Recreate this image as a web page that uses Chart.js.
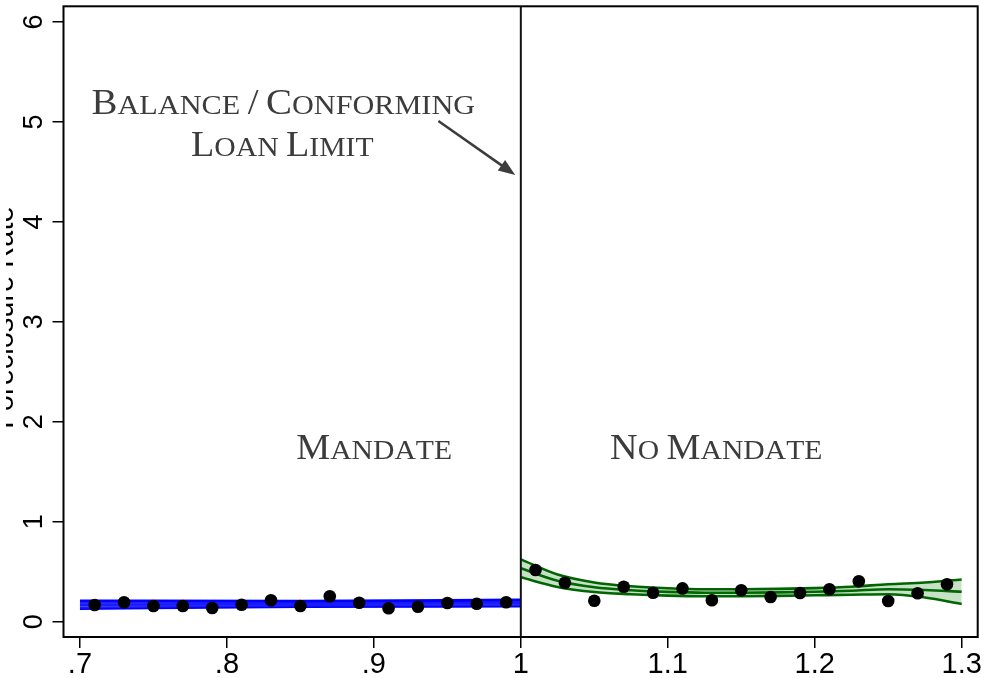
<!DOCTYPE html>
<html>
<head>
<meta charset="utf-8">
<script src="https://cdn.jsdelivr.net/npm/chart.js@4.4.1/dist/chart.umd.min.js"></script>
<style>
  html, body { margin: 0; padding: 0; background: #ffffff; }
  #wrap { width: 984px; height: 678px; position: relative; }
</style>
</head>
<body>
<div id="wrap"><canvas id="c" width="984" height="678"></canvas></div>
<script>
// Binned foreclosure rates, below the conforming limit (mandate)
const binLeft  = [0.71, 0.73, 0.75, 0.77, 0.79, 0.81, 0.83, 0.85, 0.87, 0.89, 0.91, 0.93, 0.95, 0.97, 0.99];
const rateLeft = [0.167, 0.194, 0.157, 0.157, 0.137, 0.170, 0.214, 0.157, 0.254, 0.190, 0.134, 0.150, 0.187, 0.180, 0.194];

// Binned foreclosure rates, above the conforming limit (no mandate)
const binRight  = [1.01, 1.03, 1.05, 1.07, 1.09, 1.11, 1.13, 1.15, 1.17, 1.19, 1.21, 1.23, 1.25, 1.27, 1.29];
const rateRight = [0.517, 0.390, 0.210, 0.350, 0.290, 0.333, 0.214, 0.314, 0.247, 0.287, 0.324, 0.404, 0.207, 0.284, 0.374];

// Fitted line and confidence band, left side
const fitLeftX   = [0.70, 0.85, 1.00];
const fitLeftMid = [0.170, 0.178, 0.187];
const fitLeftHi  = [0.207, 0.205, 0.217];
const fitLeftLo  = [0.133, 0.151, 0.157];

// Fitted polynomial and confidence band, right side
const fitRightX   = [1.000, 1.025, 1.050, 1.075, 1.100, 1.125, 1.150, 1.175, 1.200, 1.225, 1.250, 1.275, 1.300];
const fitRightMid = [0.534, 0.410, 0.345, 0.315, 0.298, 0.290, 0.290, 0.293, 0.300, 0.310, 0.325, 0.317, 0.300];
const fitRightHi  = [0.624, 0.472, 0.393, 0.355, 0.335, 0.325, 0.325, 0.328, 0.336, 0.350, 0.375, 0.392, 0.422];
const fitRightLo  = [0.444, 0.348, 0.297, 0.275, 0.261, 0.255, 0.255, 0.258, 0.264, 0.270, 0.275, 0.242, 0.178];

// Axis ticks
const xTicks = [0.7, 0.8, 0.9, 1.0, 1.1, 1.2, 1.3];
const xTickLabels = ['.7', '.8', '.9', '1', '1.1', '1.2', '1.3'];
const yTicks = [0, 1, 2, 3, 4, 5, 6];
const yTickLabels = ['0', '1', '2', '3', '4', '5', '6'];

const threshold = 1.0;
const yTitle = 'Foreclosure Rate';

const pts = (xs, ys) => xs.map((x, i) => ({ x: x, y: ys[i] }));

const SERIF = '"Liberation Serif", "Times New Roman", serif';
const SANS = '"Liberation Sans", Arial, sans-serif';
const TEXT_GRAY = '#3c3c3c';

// Draws text in small capitals: first letter of each word large, the rest smaller
function smallCaps(ctx, text, cx, baseline, big, small, stretch) {
  const parts = [];
  text.split(' ').forEach((word, wi, arr) => {
    word.split('').forEach((ch, ci) => {
      const isBig = ci === 0 || !/[a-z]/i.test(ch);
      parts.push({ ch: ch.toUpperCase(), size: isBig ? big : small });
    });
    if (wi < arr.length - 1) parts.push({ ch: ' ', size: small });
  });
  let total = 0;
  parts.forEach(p => { ctx.font = p.size + 'px ' + SERIF; p.w = ctx.measureText(p.ch).width; total += p.w; });
  ctx.save();
  ctx.translate(cx, baseline);
  ctx.scale(stretch, 1);
  let x = -total / 2;
  ctx.textAlign = 'left';
  ctx.textBaseline = 'alphabetic';
  parts.forEach(p => { ctx.font = p.size + 'px ' + SERIF; ctx.fillText(p.ch, x, 0); x += p.w; });
  ctx.restore();
}

const decorations = {
  id: 'decorations',
  afterDatasetsDraw(chart) {
    const { ctx, chartArea: a, scales: { x, y } } = chart;
    ctx.save();
    // threshold line
    const tx = x.getPixelForValue(threshold);
    ctx.strokeStyle = '#111';
    ctx.lineWidth = 2;
    ctx.beginPath();
    ctx.moveTo(tx, a.top);
    ctx.lineTo(tx, a.bottom);
    ctx.stroke();

    // plot frame
    ctx.strokeStyle = '#000';
    ctx.lineWidth = 2;
    ctx.strokeRect(a.left, a.top, a.right - a.left, a.bottom - a.top);

    // annotations
    ctx.fillStyle = TEXT_GRAY;
    smallCaps(ctx, 'Balance / Conforming', x.getPixelForValue(0.8384), y.getPixelForValue(5.084), 36, 28, 1.08);
    smallCaps(ctx, 'Loan Limit', x.getPixelForValue(0.8377), y.getPixelForValue(4.66), 36, 28, 1.06);
    smallCaps(ctx, 'Mandate', x.getPixelForValue(0.9002), y.getPixelForValue(1.627), 36, 28, 1.06);
    smallCaps(ctx, 'No Mandate', x.getPixelForValue(1.1330), y.getPixelForValue(1.627), 36, 28, 1.06);

    // arrow towards the threshold
    const x0 = x.getPixelForValue(0.9439), y0 = y.getPixelForValue(5.01);
    const x1 = x.getPixelForValue(0.9962), y1 = y.getPixelForValue(4.47);
    const ang = Math.atan2(y1 - y0, x1 - x0);
    const head = 18, spread = 0.36;
    ctx.strokeStyle = TEXT_GRAY;
    ctx.lineWidth = 2.5;
    ctx.beginPath();
    ctx.moveTo(x0, y0);
    ctx.lineTo(x1 - Math.cos(ang) * head * 0.8, y1 - Math.sin(ang) * head * 0.8);
    ctx.stroke();
    ctx.beginPath();
    ctx.moveTo(x1, y1);
    ctx.lineTo(x1 - head * Math.cos(ang - spread), y1 - head * Math.sin(ang - spread));
    ctx.lineTo(x1 - head * Math.cos(ang + spread), y1 - head * Math.sin(ang + spread));
    ctx.closePath();
    ctx.fill();
    ctx.restore();

    // y-axis title, cut by the left page margin
    ctx.save();
    ctx.beginPath();
    ctx.rect(6, 0, 60, chart.height);
    ctx.clip();
    ctx.fillStyle = '#000';
    ctx.translate(12.5, (a.top + a.bottom) / 2 - 4);
    ctx.rotate(-Math.PI / 2);
    ctx.font = '29px ' + SANS;
    ctx.textAlign = 'center';
    ctx.textBaseline = 'alphabetic';
    ctx.fillText(yTitle, 0, 0);
    ctx.restore();
  }
};

const lineDs = (label, xs, ys, color, width, fill, bg) => ({
  type: 'line',
  label: label,
  data: pts(xs, ys),
  borderColor: color,
  borderWidth: width,
  backgroundColor: bg || 'transparent',
  fill: fill,
  pointRadius: 0,
  cubicInterpolationMode: 'monotone',
  order: 2
});

new Chart(document.getElementById('c'), {
  type: 'scatter',
  data: {
    datasets: [
      {
        label: 'Mandate bins',
        data: pts(binLeft, rateLeft),
        backgroundColor: '#000',
        borderWidth: 0,
        pointRadius: 6.3,
        order: 0
      },
      {
        label: 'No mandate bins',
        data: pts(binRight, rateRight),
        backgroundColor: '#000',
        borderWidth: 0,
        pointRadius: 6.3,
        order: 0
      },
      lineDs('Left CI upper', fitLeftX, fitLeftHi, '#0000ff', 3, '+1', 'rgba(30,30,255,0.85)'),
      lineDs('Left CI lower', fitLeftX, fitLeftLo, '#0000ff', 3, false),
      lineDs('Left fit', fitLeftX, fitLeftMid, '#0000ff', 2.5, false),
      lineDs('Right CI upper', fitRightX, fitRightHi, '#006400', 2.6, '+1', 'rgba(0,120,0,0.22)'),
      lineDs('Right CI lower', fitRightX, fitRightLo, '#006400', 2.6, false),
      lineDs('Right fit', fitRightX, fitRightMid, '#006400', 2.6, false)
    ]
  },
  options: {
    responsive: false,
    animation: false,
    devicePixelRatio: 1,
    layout: { padding: { top: 6, right: 4, left: 0, bottom: 0 } },
    plugins: { legend: { display: false }, tooltip: { enabled: false } },
    scales: {
      x: {
        type: 'linear',
        min: 0.6888,
        max: 1.3109,
        afterBuildTicks(scale) { scale.ticks = xTicks.map(v => ({ value: v })); },
        afterFit(scale) { scale.height = 41; scale.paddingLeft = 0; scale.paddingRight = 0; },
        border: { display: false },
        grid: { drawOnChartArea: false, tickLength: 11, tickColor: '#000', lineWidth: 1.5 },
        ticks: {
          color: '#000',
          font: { family: SANS, size: 29 },
          padding: 0,
          maxRotation: 0,
          autoSkip: false,
          callback: (v) => { const i = xTicks.findIndex(t => Math.abs(t - v) < 1e-9); return i >= 0 ? xTickLabels[i] : ''; }
        }
      },
      y: {
        type: 'linear',
        min: -0.153,
        max: 6.157,
        afterBuildTicks(scale) { scale.ticks = yTicks.map(v => ({ value: v })); },
        afterFit(scale) { scale.width = 63.5; scale.paddingTop = 0; scale.paddingBottom = 0; },
        border: { display: false },
        grid: { drawOnChartArea: false, tickLength: 11, tickColor: '#000', lineWidth: 1.5 },
        ticks: {
          color: '#000',
          font: { family: SANS, size: 27 },
          padding: 10,
          minRotation: 90,
          maxRotation: 90,
          crossAlign: 'center',
          autoSkip: false,
          callback: (v) => { const i = yTicks.indexOf(v); return i >= 0 ? yTickLabels[i] : ''; }
        }
      }
    }
  },
  plugins: [decorations]
});
</script>
</body>
</html>
